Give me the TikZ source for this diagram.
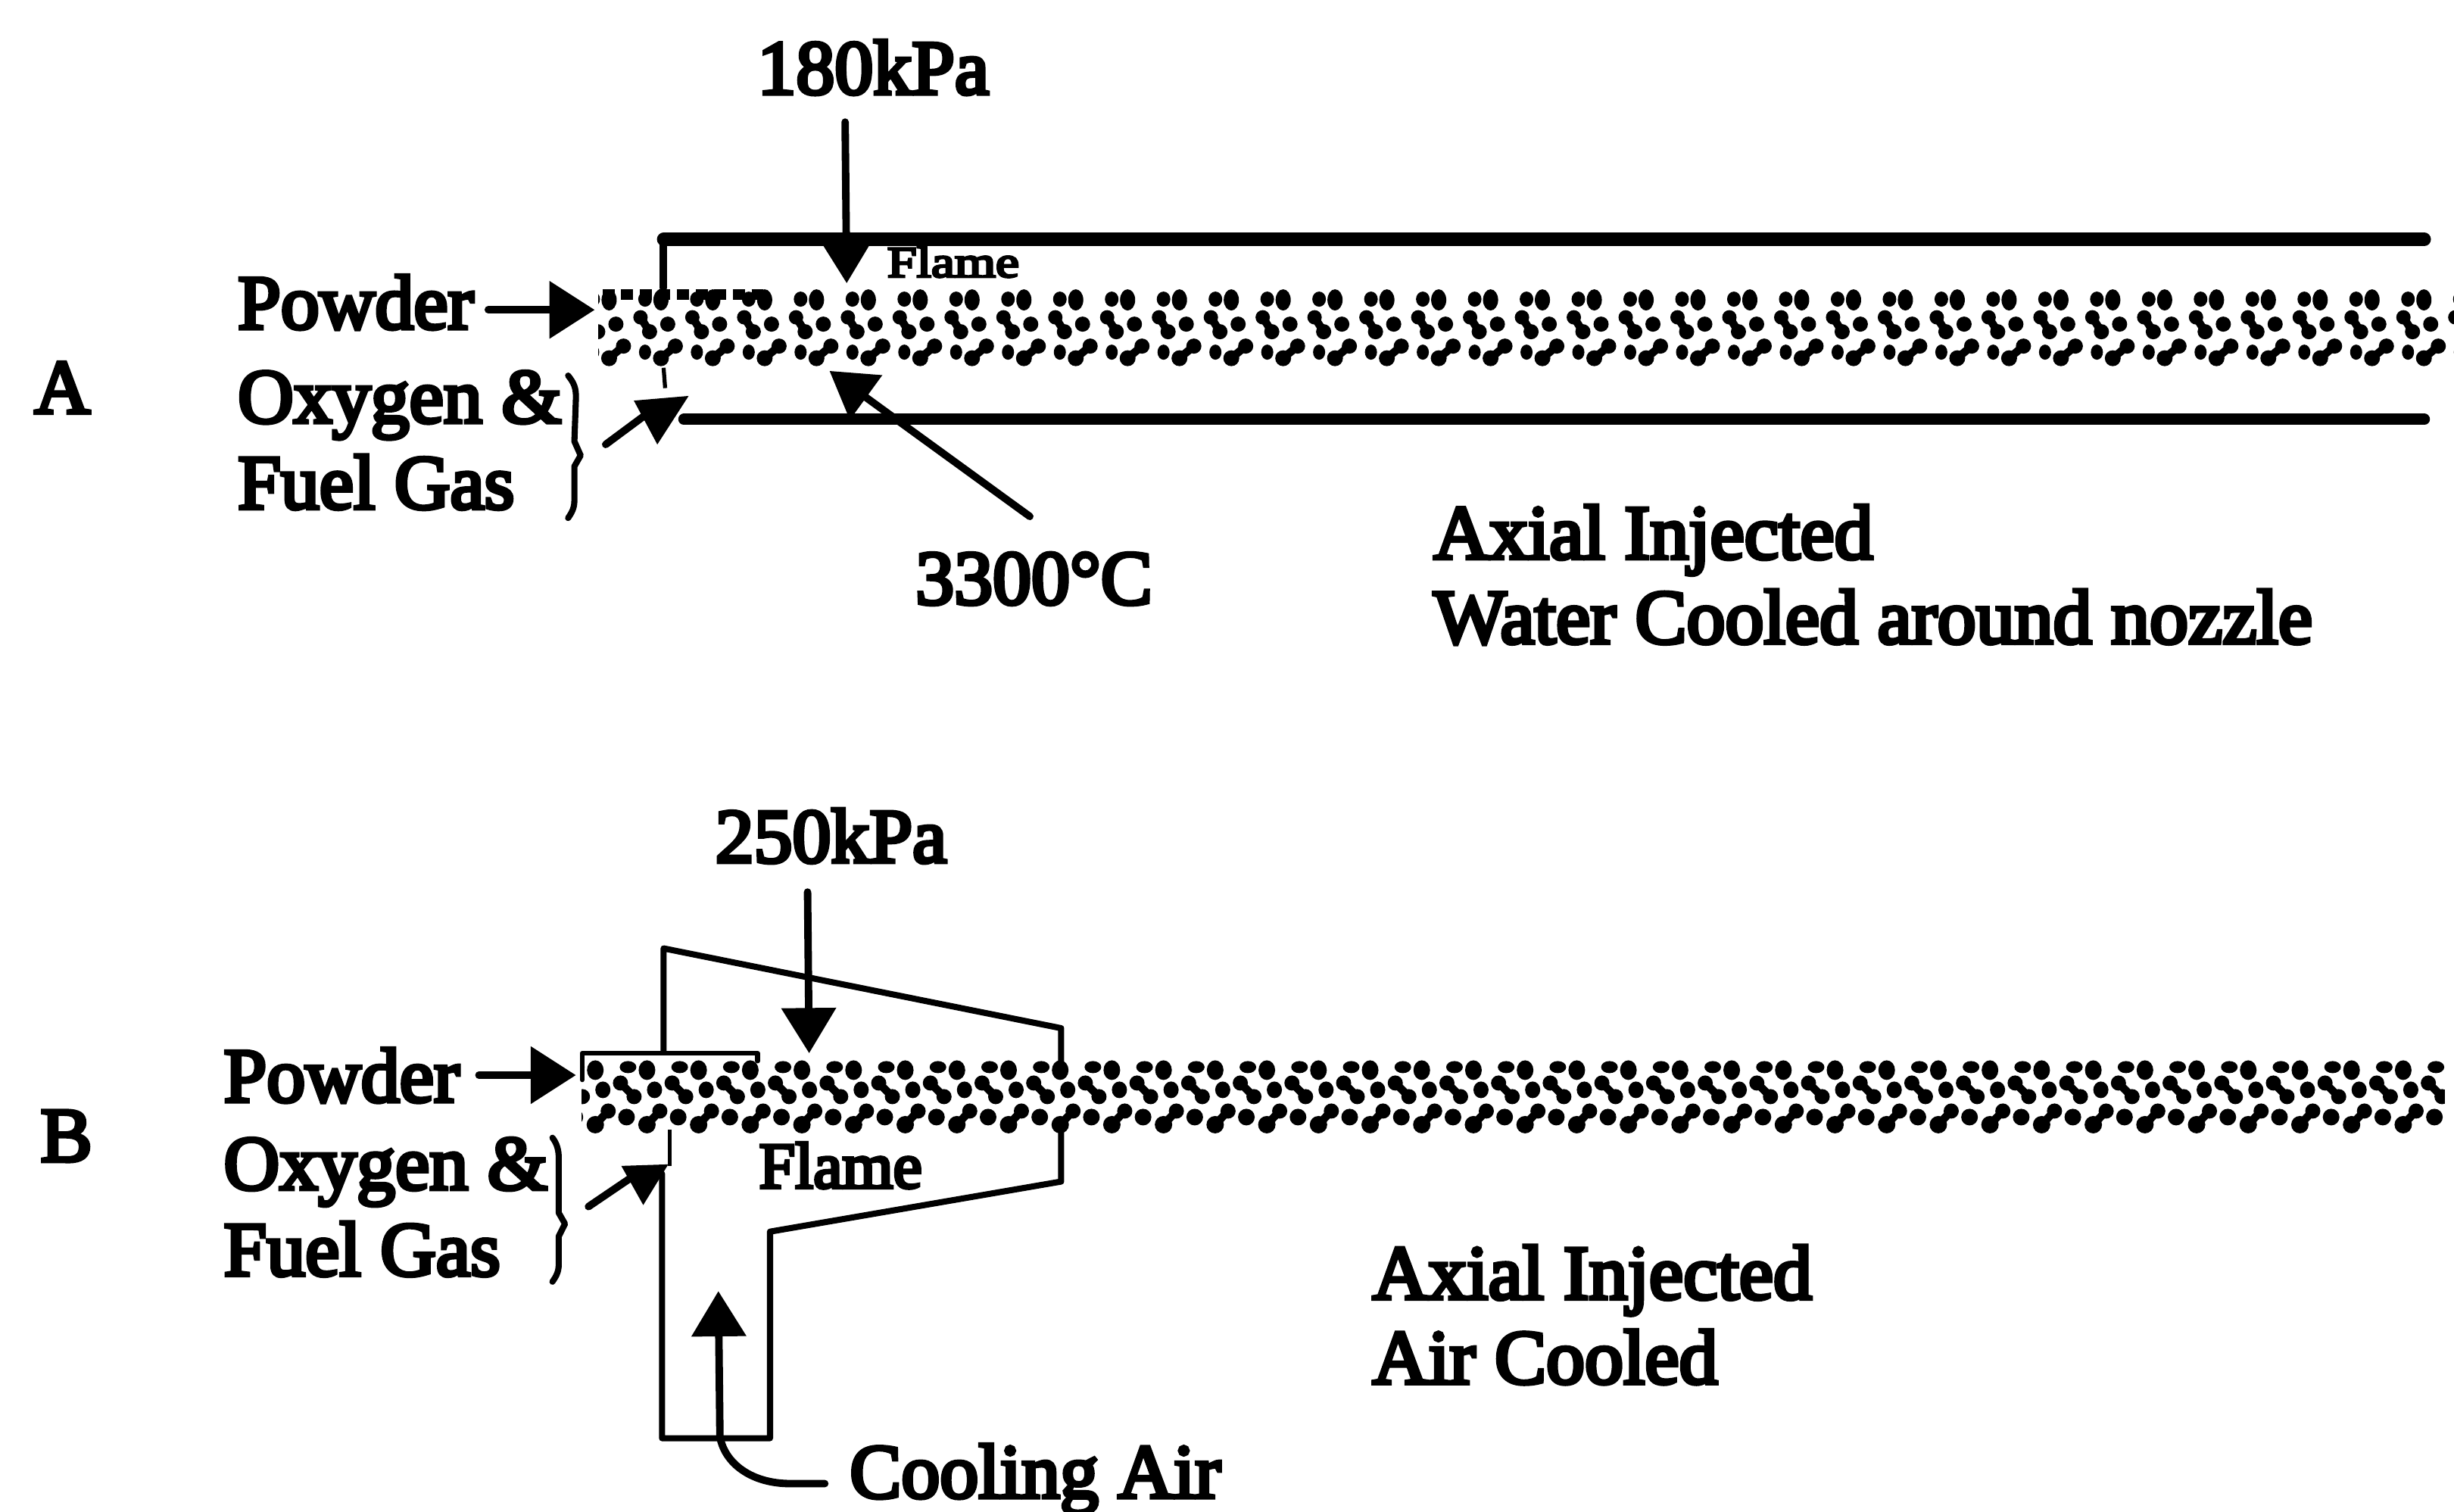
\documentclass[tikz,border=0pt]{standalone}
\usepackage{fontspec}
\setmainfont{Liberation Serif}[FakeBold=5]
\usetikzlibrary{arrows.meta}
\tikzset{
  every node/.style={inner sep=0pt,outer sep=0pt,text=black},
  lbl/.style={anchor=base west,font=\fontsize{58}{60}\selectfont},
  wall/.style={line width=5.6pt,line cap=round,line join=round},
  thinwall/.style={line width=4.6pt,line cap=round,line join=round},
  arr/.style={line width=5.6pt,line cap=round,-{Triangle[length=34pt,width=40pt]}},
  stub/.style={line width=5.6pt,line cap=round},
  brace/.style={line width=4.6pt,line cap=round,line join=round}
}
\newcommand{\tileA}[1]{%
  \begin{scope}[xshift=#1*0.02cm]
    \fill (7,395) ellipse [x radius=9,y radius=10];
    \fill (28,396) ellipse [x radius=10,y radius=14];
    \fill (1,419) circle [radius=9.5];
    \fill (13,438) circle [radius=10];
    \draw[line width=6pt] (1,419) -- (13,438);
    \fill (37,428) circle [radius=10];
    \fill (7,465) ellipse [x radius=8,y radius=10];
    \fill (28,473) circle [radius=10.5];
    \fill (47,457) circle [radius=10];
    \draw[line width=6pt] (28,473) -- (47,457);
  \end{scope}}
\newcommand{\tileB}[1]{%
  \begin{scope}[xshift=#1*0.02cm]
    \fill (10,1409) ellipse [x radius=11,y radius=8];
    \fill (35,1413) ellipse [x radius=11,y radius=13];
    \fill (0,1430) circle [radius=10];
    \fill (18,1448) circle [radius=10];
    \draw[line width=6pt] (0,1430) -- (18,1448);
    \fill (45,1439) ellipse [x radius=10,y radius=11];
    \fill (8,1475) circle [radius=11];
    \fill (35,1485) circle [radius=11.5];
    \fill (52,1467) circle [radius=10];
    \draw[line width=6pt] (35,1485) -- (52,1467);
  \end{scope}}
\begin{document}
\begin{tikzpicture}[x=0.0413393cm,y=-0.0413393cm]
\useasboundingbox (0,0) rectangle (1568,966.1);
\fill[white] (0,0) rectangle (1568,966.1);

% --- strips (full-size pixel coordinates)
\begin{scope}[x=0.02cm,y=-0.02cm]
  \begin{scope}
    \clip (790,375) rectangle (3241,490);
    \foreach \k in {-6,...,31} {\pgfmathsetmacro{\xx}{2830-68.46*\k}\tileA{\xx}}
  \end{scope}
  \begin{scope}
    \clip (768,1395) rectangle (3228,1500);
    \foreach \k in {-1,...,36} {\pgfmathsetmacro{\xx}{3138-68.2*\k}\tileB{\xx}}
  \end{scope}
\end{scope}

% --- A
\node[lbl] (letterA) at (22,264) {A};
\node[lbl] (kpaA) at (484,60) {180kPa};
\node[lbl] (powderA) at (152,210) {Powder};
\node[lbl] (oxyA) at (152,270) {Oxygen \&};
\node[lbl] (fuelA) at (152,325) {Fuel Gas};
\node[lbl] (tempA) at (585,386) {3300°C};
\node[lbl] (axA) at (916,357) {Axial Injected};
\node[lbl] (watA) at (916,411) {Water Cooled around nozzle};
\node[anchor=base west,font=\fontsize{33}{34}\selectfont] (flameA) at (567,177) {\scalebox{1.2}[1]{Flame}};

\coordinate (tl) at (424,184);
\coordinate (tc) at (424,153);
\coordinate (tr) at (1549,153);
\coordinate (bl) at (437,268);
\coordinate (br) at (1549,268);
\draw[wall,line width=10pt] (tc) -- (tr);
\draw[wall] (tl) -- (tc);
\draw[line width=8.5pt,line cap=round] (bl) -- (br);
\draw[line width=8pt,dash pattern=on 9pt off 5pt] (385,188) -- (492,188);
\draw[line width=3pt] (424,235) -- (425,248);

\coordinate (kpaAs) at (540,78);
\coordinate (kpaAe) at (541,181);
\draw[arr] (kpaAs) -- (kpaAe);
\coordinate (powAe) at (380,198);
\draw[arr,-{Triangle[length=34pt,width=42pt]}] (312,198) -- (powAe);
\coordinate (tempAs) at (658,330);
\coordinate (tempAe) at (530,237);
\draw[arr] (tempAs) -- (tempAe);
\coordinate (gasAs) at (387,284);
\coordinate (gasAe) at (418,261);
\draw[stub] (gasAs) -- (gasAe);
\fill (405,256) -- (440,253) -- (420,284) -- cycle;
\draw[brace] (363,240) .. controls (367,245) and (368,248) .. (368,254) -- (367,282) -- (371,291) -- (367,298) -- (367,320) .. controls (367,325) and (365,328) .. (363,331);

% --- B
\node[lbl] (letterB) at (26,742) {B};
\node[lbl] (kpaB) at (457,551) {250kPa};
\node[lbl] (powderB) at (143,704) {Powder};
\node[lbl] (oxyB) at (143,760) {Oxygen \&};
\node[lbl] (fuelB) at (143,815) {Fuel Gas};
\node[anchor=base west,font=\fontsize{49}{50}\selectfont] (flameB) at (485,759) {Flame};
\node[lbl] (axB) at (877,830) {Axial Injected};
\node[lbl] (airB) at (877,884) {Air Cooled};
\node[lbl] (coolB) at (543,957) {Cooling Air};

\draw[thinwall] (424,672) -- (424,606) -- (678,657) -- (678,686);
\draw[thinwall] (678,720) -- (678,755) -- (492,787) -- (492,919) -- (423,919) -- (423,750);
\draw[line width=3pt] (428,722) -- (428,745);
\draw[line width=3.5pt,line cap=round,line join=round] (372,690) -- (372,673) -- (484,673) -- (484,678);

\coordinate (kpaBs) at (516,570);
\coordinate (kpaBe) at (517,673);
\draw[arr] (kpaBs) -- (kpaBe);
\coordinate (powBe) at (368,687);
\draw[arr,-{Triangle[length=34pt,width=42pt]}] (306,687) -- (powBe);
\coordinate (gasBs) at (376,771);
\coordinate (gasBe) at (404,752);
\draw[stub] (gasBs) -- (gasBe);
\fill (397,745) -- (427,744) -- (411,770) -- cycle;
\draw[brace] (353,727) .. controls (356,731) and (357,735) .. (357,740) -- (357,775) -- (361,782) -- (357,790) -- (357,808) .. controls (357,813) and (355,816) .. (353,819);

\coordinate (coolBs) at (527,948);
\coordinate (coolBm) at (460,918);
\coordinate (coolBe) at (459,825);
\draw[line width=5.6pt,line cap=round] (coolBs) -- (505,948) .. controls (480,948) and (463,935) .. (coolBm);
\draw[arr] (coolBm) -- (coolBe);
\end{tikzpicture}
\end{document}
